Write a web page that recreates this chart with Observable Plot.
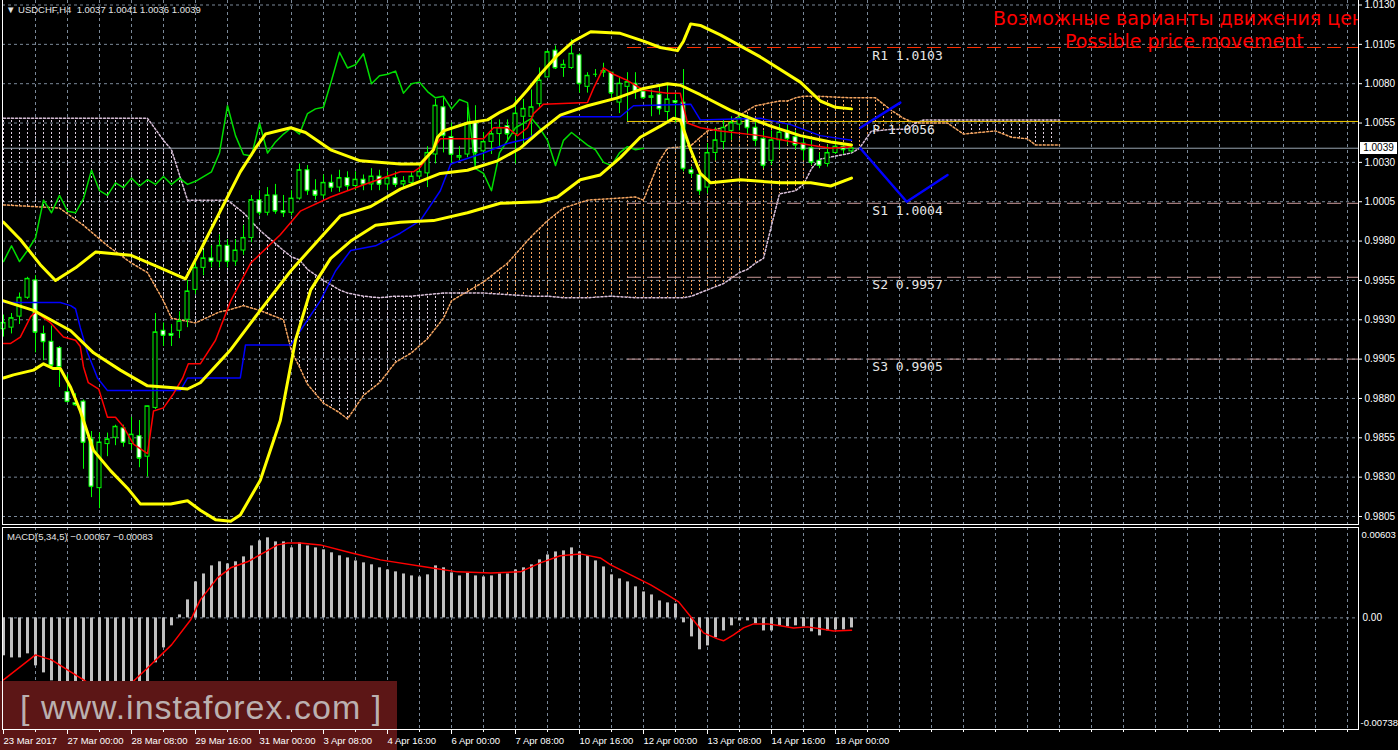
<!DOCTYPE html>
<html lang="ru">
<head>
<meta charset="utf-8">
<script src="https://cdn.jsdelivr.net/npm/d3@7"></script>
<script src="https://cdn.jsdelivr.net/npm/@observablehq/plot@0.6"></script>
<style>
html,body{margin:0;padding:0;background:#000;}
body{width:1398px;height:750px;position:relative;overflow:hidden;font-family:"Liberation Sans",Arial,sans-serif;}
#wm{position:absolute;left:0;top:681px;width:397px;height:69px;background:#5c1616;}
#wmtext{position:absolute;left:20px;top:688px;font-size:34px;letter-spacing:1px;color:rgba(205,205,205,0.85);white-space:pre;font-family:"Liberation Sans",Arial,sans-serif;}
#main{position:absolute;left:0;top:0;}
#macd{position:absolute;left:0;top:526px;}
#taxis{position:absolute;left:0;top:726px;}
.frame{position:absolute;pointer-events:none;box-sizing:content-box;}
#f1{left:2px;top:-1px;width:1355px;height:525px;border-left:1px solid #fff;border-right:1px solid #fff;border-bottom:1px solid #fff;}
#f2{left:2px;top:527px;width:1355px;height:201px;border:1px solid #fff;}
.hdr{position:absolute;color:#e4e4e4;white-space:pre;line-height:12px;}
#pricebox{position:absolute;left:1360px;width:37px;height:12px;background:#fff;color:#000;font-size:10px;text-align:center;line-height:12px;}
</style>
</head>
<body>
<svg width="0" height="0" style="position:absolute">
  <defs>
    <pattern id="hatchT" patternUnits="userSpaceOnUse" width="8" height="4">
      <rect x="3" y="0" width="1" height="2" fill="#e0d0e0"></rect>
    </pattern>
    <pattern id="hatchS" patternUnits="userSpaceOnUse" width="8" height="4">
      <rect x="3" y="0" width="1" height="2" fill="#f4a460"></rect>
    </pattern>
  </defs>
</svg>
<div id="main"></div>
<div id="macd"></div>
<div id="wm"></div>
<div id="wmtext">[ www.instaforex.com ]</div>
<div id="taxis"></div>
<div class="frame" id="f1"></div>
<div class="frame" id="f2"></div>
<div class="hdr" id="hdr" style="left:6px;top:4px;font-size:9.5px"></div>
<div class="hdr" id="macdlab" style="left:7px;top:531px;font-size:9.5px"></div>
<div id="pricebox"></div>
<script>
// ---------- DATA ----------
const symbolName = "USDCHF,H4";
const timeTickBars = [0, 8, 16, 24, 32, 40, 48, 56, 64, 72, 80, 88, 96, 104];
const timeTickLabels = ["23 Mar 2017", "27 Mar 00:00", "28 Mar 08:00", "29 Mar 16:00", "31 Mar 00:00", "3 Apr 08:00", "4 Apr 16:00", "6 Apr 00:00", "7 Apr 08:00", "10 Apr 16:00", "12 Apr 00:00", "13 Apr 08:00", "14 Apr 16:00", "18 Apr 00:00"];
const priceTicks = [0.9805, 0.9830, 0.9855, 0.9880, 0.9905, 0.9930, 0.9955, 0.9980, 1.0005, 1.0030, 1.0055, 1.0080, 1.0105, 1.0130];
const macdTicks = [0.00603, 0, -0.00738];

const open = [0.9924,0.9925,0.9932,0.9944,0.9955,0.9921,0.9916,0.9912,0.9884,0.9877,
0.9878,0.9854,0.9823,0.9851,0.9855,0.9861,0.9851,0.9856,0.9843,0.9874,
0.9923,0.9921,0.9923,0.9930,0.9949,0.9963,0.9969,0.9967,0.9977,0.9967,
0.9974,0.9982,1.0006,0.9998,1.0009,0.9999,0.9998,1.0007,1.0025,1.0012,
1.0009,1.0017,1.0014,1.0020,1.0015,1.0019,1.0016,1.0021,1.0016,1.0020,
1.0016,1.0017,1.0021,1.0023,1.0035,1.0065,1.0046,1.0033,1.0035,1.0055,
1.0037,1.0043,1.0048,1.0053,1.0048,1.0059,1.0059,1.0067,1.0084,1.0101,
1.0090,1.0090,1.0098,1.0078,1.0086,1.0087,1.0087,1.0068,1.0078,1.0080,
1.0075,1.0071,1.0073,1.0062,1.0069,1.0068,1.0025,1.0022,1.0014,1.0036,
1.0043,1.0050,1.0054,1.0058,1.0052,1.0045,1.0031,1.0044,1.0050,1.0046,
1.0042,1.0039,1.0031,1.0029,1.0036,1.0040,1.0037];
const high = [0.9933,0.9934,0.9947,0.9957,0.9958,0.9926,0.9926,0.9913,0.9895,0.9883,
0.9879,0.9859,0.9858,0.9858,0.9863,0.9863,0.9868,0.9866,0.9875,0.9934,
0.9928,0.9927,0.9935,0.9955,0.9967,0.9974,0.9977,0.9984,0.9981,0.9981,
0.9990,1.0009,1.0012,1.0014,1.0016,1.0009,1.0012,1.0029,1.0028,1.0019,
1.0022,1.0022,1.0025,1.0024,1.0024,1.0022,1.0026,1.0025,1.0024,1.0024,
1.0021,1.0024,1.0028,1.0040,1.0070,1.0071,1.0055,1.0040,1.0065,1.0066,
1.0049,1.0057,1.0057,1.0057,1.0071,1.0070,1.0076,1.0090,1.0101,1.0104,
1.0095,1.0108,1.0099,1.0087,1.0089,1.0093,1.0087,1.0084,1.0087,1.0087,
1.0077,1.0076,1.0078,1.0080,1.0074,1.0089,1.0027,1.0026,1.0042,1.0052,
1.0057,1.0059,1.0061,1.0060,1.0057,1.0050,1.0050,1.0054,1.0054,1.0050,
1.0047,1.0044,1.0036,1.0041,1.0044,1.0042,1.0041];
const low = [0.9919,0.9921,0.9927,0.9943,0.9909,0.9904,0.9900,0.9887,0.9878,0.9875,
0.9835,0.9817,0.9810,0.9843,0.9850,0.9849,0.9847,0.9836,0.9830,0.9873,
0.9913,0.9913,0.9918,0.9925,0.9946,0.9958,0.9963,0.9963,0.9963,0.9964,
0.9971,0.9979,0.9996,0.9996,0.9997,0.9995,0.9996,1.0006,1.0009,1.0006,
1.0007,1.0011,1.0011,1.0012,1.0012,1.0012,1.0012,1.0012,1.0012,1.0014,
1.0014,1.0015,1.0019,1.0014,1.0029,1.0036,1.0029,1.0031,1.0033,1.0028,
1.0031,1.0035,1.0040,1.0044,1.0029,1.0040,1.0046,1.0065,1.0084,1.0089,
1.0084,1.0089,1.0074,1.0074,1.0084,1.0084,1.0071,1.0061,1.0056,1.0070,
1.0070,1.0059,1.0060,1.0055,1.0055,1.0024,1.0020,1.0009,1.0010,1.0031,
1.0038,1.0044,1.0050,1.0047,1.0040,1.0026,1.0028,1.0038,1.0041,1.0038,
1.0031,1.0028,1.0026,1.0027,1.0035,1.0035,1.0036];
const close = [0.9928,0.9931,0.9944,0.9956,0.9922,0.9916,0.9901,0.9900,0.9878,0.9876,
0.9852,0.9824,0.9852,0.9854,0.9862,0.9852,0.9857,0.9842,0.9875,0.9922,
0.9920,0.9920,0.9929,0.9948,0.9963,0.9969,0.9967,0.9977,0.9967,0.9974,
0.9982,1.0006,0.9998,1.0009,0.9999,0.9998,1.0007,1.0025,1.0012,1.0009,
1.0017,1.0014,1.0020,1.0015,1.0019,1.0016,1.0021,1.0016,1.0020,1.0016,
1.0018,1.0021,1.0024,1.0036,1.0066,1.0047,1.0035,1.0034,1.0055,1.0036,
1.0043,1.0048,1.0052,1.0048,1.0061,1.0064,1.0065,1.0082,1.0100,1.0090,
1.0092,1.0099,1.0080,1.0085,1.0086,1.0088,1.0074,1.0080,1.0081,1.0075,
1.0071,1.0072,1.0064,1.0070,1.0068,1.0026,1.0023,1.0012,1.0036,1.0044,
1.0052,1.0055,1.0058,1.0052,1.0044,1.0028,1.0044,1.0049,1.0045,1.0041,
1.0038,1.0030,1.0028,1.0036,1.0040,1.0038,1.0039];

// Bollinger bands [bar, price]
const bbUpper = [[0,0.9992],[2.1,0.9981],[4.6,0.9965],[6.5,0.9955],[9,0.9963],[11.5,0.9973],[15.9,0.9971],[19.6,0.9963],[22.75,0.9956],[24.6,0.9974],[27.1,0.9999],[29.6,1.0024],[31.5,1.0039],[32.75,1.0048],[35.9,1.0052],[37.75,1.0049],[40.9,1.0038],[44.6,1.0031],[49.6,1.0029],[52.1,1.0029],[53.75,1.0038],[54.25,1.0046],[55,1.0050],[58,1.0055],[60.5,1.0057],[62.1,1.0062],[63.75,1.0066],[65.5,1.0076],[67.1,1.0086],[69.25,1.0098],[71.25,1.0107],[73.4,1.0113],[77.1,1.0112],[80,1.0107],[82.1,1.0103],[84.25,1.0101],[85,1.0107],[85.9,1.0118],[87.1,1.0117],[89.6,1.0111],[94.6,1.0097],[99.6,1.0081],[102.1,1.0069],[104,1.0065],[106,1.0064]];
const bbMiddle = [[0,0.9942],[3.75,0.9936],[5.9,0.9930],[8.4,0.9923],[11.25,0.9909],[14.6,0.9898],[18,0.9888],[20.9,0.9887],[23,0.9886],[24.6,0.9890],[28.4,0.9911],[32.1,0.9936],[35.9,0.9961],[39.6,0.9982],[42.1,0.9996],[45.9,1.0002],[49.6,1.0013],[52.1,1.0018],[54.6,1.0023],[58,1.0025],[61.75,1.0031],[64.6,1.0039],[67.1,1.0050],[69.6,1.0060],[73,1.0066],[76.75,1.0071],[80,1.0077],[83,1.0080],[84.6,1.0079],[87.1,1.0073],[90.9,1.0063],[95.9,1.0053],[99.6,1.0047],[103.4,1.0043],[106,1.0041]];
const bbLower = [[0,0.9893],[1.25,0.9895],[3.75,0.9898],[5,0.9902],[6.25,0.9899],[7.1,0.9899],[8.4,0.9887],[9.6,0.9872],[11.25,0.9847],[13.4,0.9834],[15.5,0.9823],[17.1,0.9813],[20.9,0.9813],[23,0.9815],[24.6,0.9809],[26.5,0.9803],[28.4,0.9802],[29.6,0.9806],[32.1,0.9828],[34.6,0.9866],[36.5,0.9917],[38.4,0.9949],[40.9,0.9969],[43.4,0.9980],[46.5,0.9990],[49.6,0.9992],[53.75,0.9993],[58,0.9998],[62.1,1.0004],[67.1,1.0005],[69.25,1.0008],[72.1,1.0019],[74.6,1.0022],[77.1,1.0033],[79.6,1.0046],[82.1,1.0053],[83.75,1.0058],[84.6,1.0057],[85.9,1.0038],[87.1,1.0023],[88.4,1.0017],[92.1,1.0019],[97.1,1.0017],[100.9,1.0017],[103.4,1.0015],[106,1.0020]];

// Ichimoku [bar, price]
const tenkan = [[0,0.9915],[0.9,0.9915],[2.1,0.9919],[3.4,0.9932],[4,0.9935],[5.9,0.9928],[7.5,0.9919],[9,0.9917],[9.6,0.9913],[10,0.9900],[10.6,0.9890],[11.9,0.9886],[13,0.9868],[14,0.9868],[15,0.9862],[16.25,0.9851],[18,0.9845],[18.75,0.9872],[20,0.9874],[21.25,0.9883],[22.4,0.9893],[23.1,0.9902],[24.6,0.9902],[26.5,0.9917],[28.4,0.9942],[30.9,0.9966],[34.6,0.9984],[37.1,0.9999],[40.9,1.0008],[44.6,1.0015],[49.6,1.0024],[51.25,1.0024],[52.1,1.0027],[53.4,1.0036],[54.6,1.0045],[60,1.0045],[61.25,1.0052],[63,1.0052],[64.25,1.0047],[65.5,1.0052],[66.25,1.0061],[67.5,1.0067],[73,1.0068],[73.75,1.0077],[75,1.0090],[76.25,1.0086],[78,1.0082],[80,1.0076],[83,1.0074],[84.6,1.0074],[85.5,1.0055],[87.1,1.0052],[89.6,1.0050],[94.6,1.0047],[99.6,1.0042],[103.4,1.0039],[106,1.0040]];
const kijun = [[0,0.9941],[7.1,0.9941],[8.4,0.9939],[9,0.9937],[9.6,0.9925],[10.5,0.9909],[11.75,0.9893],[13,0.9885],[22.1,0.9885],[23,0.9893],[29.6,0.9893],[30.25,0.9914],[35.9,0.9914],[37.1,0.9923],[39.6,0.9942],[41.5,0.9961],[43.4,0.9974],[46.5,0.9977],[49.6,0.9985],[52.1,0.9993],[54.6,1.0012],[55.9,1.0029],[60,1.0036],[63,1.0042],[65.5,1.0045],[67.1,1.0050],[69.25,1.0059],[77.1,1.0059],[78.75,1.0066],[85.9,1.0067],[87.1,1.0057],[94.6,1.0058],[98.4,1.0054],[102.1,1.0047],[106,1.0044]];
const cloudBar = [0,7,10,13,16,18,20,21,23,24,27,28,30,32,35,36,37,38,40,42,43,45,47,49,51,53,55,56,60,63,66,68,70,73,76,79,80,82,83,85,86,88,90,92,93,94,95,96,97,98,99,100,101,102,106,107,108.5,109,111,112.5,113,114,115,118,120,124,126,128,129,132];
const spanA = [1.0003,1.0001,0.9990,0.9977,0.9966,0.9960,0.9942,0.9931,0.9929,0.9928,
0.9935,0.9936,0.9939,0.9936,0.9930,0.9910,0.9900,0.9889,0.9877,0.9871,
0.9867,0.9882,0.9890,0.9903,0.9909,0.9918,0.9931,0.9942,0.9954,0.9966,
0.9983,0.9993,1.0001,1.0006,1.0007,1.0008,1.0006,1.0031,1.0039,1.0040,
1.0041,1.0050,1.0052,1.0060,1.0063,1.0066,1.0067,1.0068,1.0069,1.0069,
1.0071,1.0072,1.0072,1.0072,1.0071,1.0071,1.0071,1.0071,1.0063,1.0058,
1.0057,1.0055,1.0055,1.0055,1.0048,1.0050,1.0046,1.0045,1.0041,1.0041];
const spanB = [1.0058,1.0058,1.0058,1.0058,1.0058,1.0058,1.0044,1.0038,1.0006,1.0006,
1.0006,1.0006,0.9998,0.9987,0.9974,0.9970,0.9968,0.9962,0.9955,0.9949,
0.9947,0.9945,0.9944,0.9945,0.9945,0.9946,0.9947,0.9947,0.9947,0.9946,
0.9945,0.9945,0.9944,0.9944,0.9945,0.9944,0.9944,0.9944,0.9944,0.9944,
0.9945,0.9949,0.9953,0.9960,0.9962,0.9966,0.9969,0.9990,1.0010,1.0011,
1.0012,1.0016,1.0026,1.0032,1.0036,1.0039,1.0050,1.0050,1.0051,1.0051,
1.0051,1.0055,1.0057,1.0057,1.0057,1.0057,1.0057,1.0057,1.0057,1.0057];

// Pivot levels
const pivotName = ["R1", "P", "S1", "S2", "S3"];
const pivotValue = [1.0103, 1.0056, 1.0004, 0.9957, 0.9905];
const pivotStartBar = 78;
const pivotLabelBar = 108.6;

// Forecast lines [bar, price]
const projUp = [[107.1, 1.0052], [112.1, 1.0068]];
const projDown = [[107.1, 1.0039], [112.9, 1.0005], [118, 1.0022]];

// MACD(5,34,5)
const macdHist = [-0.00253,-0.00267,-0.00267,-0.0024,-0.0032,-0.00367,-0.0042,-0.00454,-0.00507,-0.00547,
-0.006,-0.00667,-0.0069,-0.00654,-0.00614,-0.00587,-0.00547,-0.00534,-0.00434,-0.003,
-0.002,-0.00053,0.0002,0.0012,0.0024,0.00293,0.00347,0.00374,0.0036,0.00374,
0.00407,0.0048,0.00514,0.00534,0.00507,0.00507,0.00467,0.005,0.0048,0.00467,
0.00454,0.00434,0.00414,0.004,0.0038,0.00367,0.00354,0.00334,0.0032,0.00307,
0.00293,0.0028,0.00273,0.00287,0.00347,0.00334,0.003,0.0028,0.003,0.0028,
0.00273,0.0028,0.00293,0.00293,0.0032,0.00334,0.00354,0.00387,0.0042,0.0044,
0.00447,0.00467,0.0044,0.00414,0.0038,0.0034,0.00287,0.0026,0.0024,0.00207,
0.00173,0.00153,0.00113,0.001,0.00093,-0.00033,-0.00127,-0.00213,-0.00187,-0.00133,
-0.00087,-0.00053,-0.0002,-0.0002,-0.0004,-0.00087,-0.00087,-0.00053,-0.0006,-0.00053,
-0.0006,-0.00093,-0.0012,-0.00087,-0.0008,-0.0008,-0.00067];
const macdSignal = [[0,-0.00414],[4,-0.00247],[6,-0.0028],[8,-0.00347],[12,-0.0048],[16,-0.00434],[18,-0.00334],[21,-0.0018],[23.4,-0.00013],[24.6,0.0012],[26.75,0.00267],[28.4,0.00334],[30.5,0.00374],[32.5,0.00434],[34.25,0.00487],[35.5,0.005],[37.1,0.005],[39.6,0.00487],[43.4,0.00434],[47.1,0.00387],[53.4,0.00334],[56.75,0.00307],[60.9,0.003],[64.6,0.00307],[67.1,0.00367],[69.6,0.00414],[72.1,0.00427],[74.6,0.004],[75.9,0.00354],[78.4,0.00287],[80.9,0.0022],[83,0.00153],[84.4,0.00107],[85.9,0.00007],[87.5,-0.001],[89.25,-0.0014],[90,-0.00153],[91.25,-0.00113],[92.5,-0.00067],[93.75,-0.0004],[95.5,-0.0004],[97.1,-0.00053],[98.75,-0.00067],[100.5,-0.0006],[102.1,-0.00073],[103.75,-0.00087],[106,-0.00083]];

const noteRu = "Возможные варианты движения цен";
const noteEn = "Possible price movement";
const noteBar = [146.9, 147.6];
const notePrice = [1.0121, 1.01066];

// ---------- BUILD ----------
const bars = open.map((o, i) => ({i, o, h: high[i], l: low[i], c: close[i]}));
const pts = a => a.map(([i, v]) => ({i, v}));
const chikou = close.slice(26).map((v, i) => ({i, v}));
const cloud = cloudBar.map((i, k) => ({i, a: spanA[k], b: spanB[k]}));
const pivots = pivotName.map((n, k) => ({n, v: pivotValue[k]}));
const hist = macdHist.map((v, i) => ({i, v}));
const last = bars[bars.length - 1];
const xDomain = [-0.125, 169.375];
const gridBars = d3.range(4, 169, 4);
const minorBars = d3.range(0, 169, 4);
const gridStyle = {stroke: "#7a8898", strokeOpacity: 1, strokeDasharray: "3,3"};
const font = "Liberation Sans, Arial, sans-serif";
const baseStyle = {background: "transparent", color: "#fff", fontFamily: font, fontSize: "10px", overflow: "visible"};

const main = Plot.plot({
  width: 1398, height: 526,
  marginLeft: 2, marginRight: 40, marginTop: 0, marginBottom: 1,
  style: baseStyle,
  x: {domain: xDomain, axis: null},
  y: {domain: [0.9805, 1.0130], range: [516, 4.5], axis: null},
  color: {type: "identity"},
  marks: [
    Plot.gridY(priceTicks, gridStyle),
    Plot.gridX(gridBars, gridStyle),
    Plot.area(cloud, {x1: "i", y1: "a", y2: d => Math.max(d.a, d.b), fill: "url(#hatchT)", clip: true}),
    Plot.area(cloud, {x1: "i", y1: "b", y2: d => Math.max(d.a, d.b), fill: "url(#hatchS)", clip: true}),
    Plot.line(cloud, {x: "i", y: "a", stroke: "#f4a460", strokeDasharray: "2,2", clip: true}),
    Plot.line(cloud, {x: "i", y: "b", stroke: "#d8bfd8", strokeDasharray: "2,2", clip: true}),
    Plot.ruleY(pivots.filter(d => d.n === "R1"), {y: "v", x1: pivotStartBar, x2: xDomain[1], stroke: "#ff3000", strokeDasharray: "14,6"}),
    Plot.ruleY(pivots.filter(d => d.n === "P"), {y: "v", x1: pivotStartBar, x2: xDomain[1], stroke: "#f0c800"}),
    Plot.ruleY(pivots.filter(d => d.n[0] === "S"), {y: "v", x1: pivotStartBar, x2: xDomain[1], stroke: "#c89898", strokeDasharray: "14,6"}),
    Plot.ruleY([last.c], {stroke: "#98a4b0"}),
    Plot.ruleX(bars, {x: "i", y1: "l", y2: "h", stroke: "#00ff00"}),
    Plot.rect(bars, {x1: d => d.i - 0.25, x2: d => d.i + 0.25, y1: "o", y2: "c", fill: d => d.c < d.o ? "#ffffff" : "#000000", stroke: "#00ff00"}),
    Plot.ruleY(bars, {y: "c", x1: d => d.i - 0.25, x2: d => d.i + 0.25, stroke: "#00ff00"}),
    Plot.line(chikou, {x: "i", y: "v", stroke: "#00dd00", clip: true}),
    Plot.line(pts(kijun), {x: "i", y: "v", stroke: "#0000ff", clip: true}),
    Plot.line(pts(tenkan), {x: "i", y: "v", stroke: "#ff0000", clip: true}),
    Plot.line(pts(bbUpper), {x: "i", y: "v", stroke: "#ffff00", strokeWidth: 3, clip: true}),
    Plot.line(pts(bbMiddle), {x: "i", y: "v", stroke: "#ffff00", strokeWidth: 3, clip: true}),
    Plot.line(pts(bbLower), {x: "i", y: "v", stroke: "#ffff00", strokeWidth: 3, clip: true}),
    Plot.line(pts(projUp), {x: "i", y: "v", stroke: "#0000ff", strokeWidth: 2.5}),
    Plot.line(pts(projDown), {x: "i", y: "v", stroke: "#0000ff", strokeWidth: 2.5}),
    Plot.text(pivots, {x: pivotLabelBar, y: "v", text: d => `${d.n} ${d.v.toFixed(4)}`, dy: 8, textAnchor: "start", fill: "#e6e6e6", fontFamily: "DejaVu Sans Mono, monospace", fontSize: 13}),
    Plot.text([noteRu], {x: noteBar[0], y: notePrice[0], text: d => d, fill: "#ff0000", fontFamily: "DejaVu Sans, sans-serif", fontSize: 19, clip: true}),
    Plot.text([noteEn], {x: noteBar[1], y: notePrice[1], text: d => d, fill: "#ff0000", fontFamily: "DejaVu Sans, sans-serif", fontSize: 19, clip: true}),
    Plot.axisY(priceTicks, {anchor: "right", tickSize: 3, tickPadding: 3, tickFormat: d3.format(".4f"), stroke: "#fff", fill: "#fff"})
  ]
});
document.getElementById("main").appendChild(main);

const macd = Plot.plot({
  width: 1398, height: 224,
  marginLeft: 2, marginRight: 40, marginTop: 1, marginBottom: 21,
  style: baseStyle,
  x: {domain: xDomain, axis: null},
  y: {domain: [macdTicks[2], macdTicks[0]], range: [202, 1], axis: null},
  marks: [
    Plot.gridX(gridBars, gridStyle),
    Plot.gridY([0], gridStyle),
    Plot.ruleX(hist, {x: "i", y1: 0, y2: "v", stroke: "#c0c0c0", strokeWidth: 3}),
    Plot.line(pts(macdSignal), {x: "i", y: "v", stroke: "#ff0000"}),
    Plot.text([macdTicks[1]], {y: d => d, text: () => "0.00", frameAnchor: "right", textAnchor: "start", dx: 4, fill: "#fff"}),
    Plot.text([macdTicks[0]], {y: d => d, text: d => d.toFixed(5), frameAnchor: "right", textAnchor: "start", dx: 3, dy: 7, fill: "#fff", fontSize: 9.5}),
    Plot.text([macdTicks[2]], {y: d => d, text: d => d.toFixed(5), frameAnchor: "right", textAnchor: "start", dx: 2, dy: -6, fill: "#fff", fontSize: 9.5})
  ]
});
document.getElementById("macd").appendChild(macd);

// time axis (drawn above the watermark, as in the terminal)
const taxis = Plot.plot({
  width: 1398, height: 24,
  marginLeft: 2, marginRight: 40, marginTop: 0, marginBottom: 21,
  style: {...baseStyle, fontSize: "9.5px"},
  x: {domain: xDomain, axis: null},
  marks: [
    Plot.axisX(minorBars, {anchor: "bottom", tickSize: 3, tickFormat: () => "", stroke: "#fff"}),
    Plot.axisX(timeTickBars, {anchor: "bottom", tickSize: 5, tickPadding: 3, tickFormat: i => timeTickLabels[timeTickBars.indexOf(i)], textAnchor: "start", stroke: "#fff", fill: "#fff"})
  ]
});
document.getElementById("taxis").appendChild(taxis);

// header / labels from data
const f4 = d3.format(".4f"), f5 = d3.format(".5f");
document.getElementById("hdr").textContent = `\u25BC ${symbolName}  ${f4(last.o)} ${f4(last.h)} ${f4(last.l)} ${f4(last.c)}`;
document.getElementById("macdlab").textContent = `MACD(5,34,5) ${f5(macdHist[macdHist.length - 1])} ${f5(macdSignal[macdSignal.length - 1][1])}`;
const pb = document.getElementById("pricebox");
pb.textContent = f4(last.c);
pb.style.top = (main.scale("y").apply(last.c) - 6) + "px";
</script>
</body>
</html>
